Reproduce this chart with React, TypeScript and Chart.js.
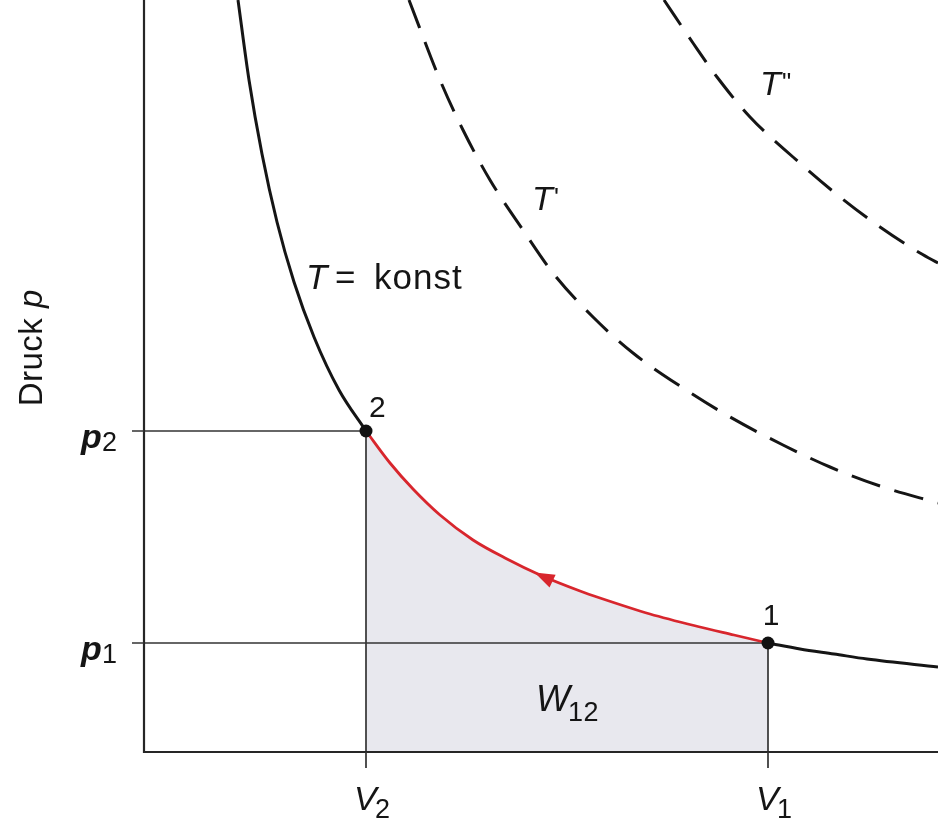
import { useEffect, useRef } from "react";
import { Chart, registerables } from "chart.js";

Chart.register(...registerables);

// State points of the isothermal compression (volume V, pressure p)
const V2 = 2.22;
const V1 = 6.24;
const P2 = 3.21;
const P1 = 1.09;

// Isotherm T = konst, branch above state 2
const isoUpperV = [0.94, 1.05, 1.18, 1.33, 1.5, 1.7, 1.95, 2.22];
const isoUpperP = [7.52, 6.72, 5.98, 5.3, 4.7, 4.15, 3.62, 3.21];

// Compression path 1 -> 2 (red), listed by increasing V
const compV = [2.22, 2.46, 2.69, 2.96, 3.29, 3.63, 3.96, 4.36, 4.56, 5.06, 5.56, 5.9, 6.24];
const compP = [3.21, 2.89, 2.63, 2.37, 2.12, 1.93, 1.77, 1.61, 1.54, 1.38, 1.25, 1.17, 1.09];
const ARROW_INDEX = 6;

// Isotherm T = konst, branch beyond state 1
const isoLowerV = [6.24, 6.56, 6.9, 7.23, 7.94];
const isoLowerP = [1.09, 1.03, 0.98, 0.93, 0.85];

// Higher isotherms T' and T''
const tPrimeV = [2.65, 2.96, 3.19, 3.46, 3.79, 4.09, 4.49, 4.89, 5.39, 5.86, 6.39, 6.86, 7.39, 7.94];
const tPrimeP = [7.52, 6.72, 6.22, 5.72, 5.22, 4.79, 4.35, 3.99, 3.64, 3.35, 3.07, 2.85, 2.65, 2.49];
const tDoubleV = [5.2, 5.49, 5.73, 6.06, 6.49, 6.96, 7.36, 7.76, 7.94];
const tDoubleP = [7.52, 7.09, 6.75, 6.35, 5.95, 5.55, 5.25, 4.99, 4.89];

const V_MAX = 7.94;
const P_MAX = 7.52;

const zip = (xs: number[], ys: number[]) => xs.map((x, i) => ({ x, y: ys[i] }));

const FONT = "'Liberation Sans', Arial, Helvetica, sans-serif";
const INK = "#151515";
const RED = "#d8262d";

function put(ctx: any, s: string, x: number, y: number, font: string, ls = 0, align = "left") {
  ctx.font = font;
  ctx.letterSpacing = ls + "px";
  ctx.textAlign = align;
  ctx.fillText(s, x, y);
}

const diagramPlugin = {
  id: "pvDiagram",
  afterDatasetsDraw(chart: any) {
    const { ctx, chartArea, scales } = chart;
    const { left, right, top, bottom } = chartArea;
    const xs = scales.x;
    const ys = scales.y;
    const xV2 = xs.getPixelForValue(V2);
    const xV1 = xs.getPixelForValue(V1);
    const yP2 = ys.getPixelForValue(P2);
    const yP1 = ys.getPixelForValue(P1);

    ctx.save();

    // axes
    ctx.strokeStyle = "#262626";
    ctx.lineWidth = 2.2;
    ctx.lineCap = "butt";
    ctx.beginPath();
    ctx.moveTo(left, top);
    ctx.lineTo(left, bottom);
    ctx.lineTo(right, bottom);
    ctx.stroke();

    // tick stubs for p1, p2, V1, V2
    ctx.strokeStyle = "#333333";
    ctx.lineWidth = 1.7;
    ctx.beginPath();
    for (const yy of [yP2, yP1]) {
      ctx.moveTo(left - 12, yy);
      ctx.lineTo(left, yy);
    }
    for (const xx of [xV2, xV1]) {
      ctx.moveTo(xx, bottom);
      ctx.lineTo(xx, bottom + 16);
    }
    ctx.stroke();

    // direction arrow on the compression path
    const meta = chart.getDatasetMeta(2);
    const a = meta.data[ARROW_INDEX];
    const b = meta.data[ARROW_INDEX - 1];
    const ang = Math.atan2(b.y - a.y, b.x - a.x);
    const len = 20;
    const half = 7;
    const tipX = a.x + Math.cos(ang) * len * 0.3;
    const tipY = a.y + Math.sin(ang) * len * 0.3;
    const baseX = tipX - Math.cos(ang) * len;
    const baseY = tipY - Math.sin(ang) * len;
    ctx.fillStyle = RED;
    ctx.beginPath();
    ctx.moveTo(tipX, tipY);
    ctx.lineTo(baseX - Math.sin(ang) * half, baseY + Math.cos(ang) * half);
    ctx.lineTo(baseX + Math.sin(ang) * half, baseY - Math.cos(ang) * half);
    ctx.closePath();
    ctx.fill();

    // labels
    ctx.fillStyle = INK;
    ctx.textBaseline = "alphabetic";

    // p2, p1
    for (const [yy, sub] of [[yP2, "2"], [yP1, "1"]] as [number, string][]) {
      put(ctx, "p", left - 63, yy + 17, `italic bold 34px ${FONT}`);
      put(ctx, sub, left - 42, yy + 20, `27px ${FONT}`);
    }

    // V2, V1
    for (const [xx, sub] of [[xV2, "2"], [xV1, "1"]] as [number, string][]) {
      put(ctx, "V", xx - 12, bottom + 58, `italic 34px ${FONT}`);
      put(ctx, sub, xx + 9, bottom + 66, `27px ${FONT}`);
    }

    // work W12
    const wx = (xV2 + xV1) / 2 - 31;
    put(ctx, "W", wx, yP1 + 68, `italic 36px ${FONT}`);
    put(ctx, "12", wx + 32, yP1 + 78, `27px ${FONT}`, 0.5);

    // state numbers
    put(ctx, "2", xV2 + 3, yP2 - 14, `30px ${FONT}`);
    put(ctx, "1", xV1 + 3, yP1 - 18, `30px ${FONT}`, 0, "center");

    // isotherm names
    const kx = xs.getPixelForValue(1.62);
    const ky = ys.getPixelForValue(4.62) - 1;
    put(ctx, "T", kx, ky, `italic 35px ${FONT}`);
    put(ctx, "=", kx + 29, ky, `35px ${FONT}`);
    put(ctx, "konst", kx + 68, ky, `35px ${FONT}`, 1);

    const t1x = xs.getPixelForValue(3.88);
    const t1y = ys.getPixelForValue(5.4);
    put(ctx, "T", t1x, t1y - 2, `italic 34px ${FONT}`);
    put(ctx, "'", t1x + 22, t1y - 6, `26px ${FONT}`);

    const t2x = xs.getPixelForValue(6.16);
    const t2y = ys.getPixelForValue(6.55);
    put(ctx, "T", t2x, t2y - 2, `italic 34px ${FONT}`);
    put(ctx, "\"", t2x + 22, t2y - 6, `26px ${FONT}`);

    // axis title
    ctx.save();
    ctx.translate(left - 102, ys.getPixelForValue(4.04));
    ctx.rotate(-Math.PI / 2);
    ctx.font = `33px ${FONT}`;
    ctx.letterSpacing = "0.5px";
    const w1 = ctx.measureText("Druck ").width;
    ctx.font = `italic 33px ${FONT}`;
    ctx.letterSpacing = "0px";
    const w2 = ctx.measureText("p").width;
    const start = -(w1 + w2) / 2;
    put(ctx, "Druck ", start, 0, `33px ${FONT}`, 0.5);
    put(ctx, "p", start + w1, 0, `italic 33px ${FONT}`, 0);
    ctx.restore();

    ctx.restore();
  },
};

const whiteBg = {
  id: "whiteBg",
  beforeDraw(chart: any) {
    const { ctx, width, height } = chart;
    ctx.save();
    ctx.fillStyle = "#ffffff";
    ctx.fillRect(0, 0, width, height);
    ctx.restore();
  },
};

export default function App() {
  const ref = useRef<HTMLCanvasElement>(null);

  useEffect(() => {
    document.body.style.margin = "0";
    const guide = {
      borderColor: "#333333",
      borderWidth: 1.7,
      pointRadius: 0,
      fill: false,
      tension: 0,
      order: 5,
    };
    const curve = {
      borderColor: INK,
      borderWidth: 3,
      pointRadius: 0,
      fill: false,
      cubicInterpolationMode: "monotone",
      order: 2,
    };
    const chart = new Chart(ref.current!, {
      type: "line",
      data: {
        datasets: [
          { ...guide, data: [{ x: 0, y: P2 }, { x: V2, y: P2 }] } as any,
          { ...guide, data: [{ x: 0, y: P1 }, { x: V1, y: P1 }] } as any,
          {
            data: zip(compV, compP),
            borderColor: RED,
            borderWidth: 2.8,
            backgroundColor: "#e8e8ee",
            fill: "origin",
            pointRadius: 0,
            cubicInterpolationMode: "monotone",
            order: 2,
          },
          { ...guide, data: [{ x: V2, y: 0 }, { x: V2, y: P2 }] } as any,
          { ...guide, data: [{ x: V1, y: 0 }, { x: V1, y: P1 }] } as any,
          { ...curve, data: zip(isoUpperV, isoUpperP) } as any,
          { ...curve, data: zip(isoLowerV, isoLowerP) } as any,
          { ...curve, borderDash: [30, 15], data: zip(tPrimeV, tPrimeP) } as any,
          { ...curve, borderDash: [30, 15], data: zip(tDoubleV, tDoubleP) } as any,
          {
            data: [{ x: V2, y: P2 }, { x: V1, y: P1 }],
            showLine: false,
            pointRadius: 6.5,
            pointBackgroundColor: "#111",
            pointBorderWidth: 0,
            order: 0,
          },
        ],
      },
      options: {
        responsive: false,
        animation: false,
        events: [],
        layout: { autoPadding: false, padding: { left: 144, right: 0, top: 0, bottom: 68 } },
        scales: {
          x: { type: "linear", min: 0, max: V_MAX, display: false },
          y: { type: "linear", min: 0, max: P_MAX, display: false },
        },
        plugins: {
          legend: { display: false },
          tooltip: { enabled: false },
          filler: { drawTime: "beforeDatasetsDraw" },
        } as any,
      } as any,
      plugins: [whiteBg, diagramPlugin],
    });
    return () => chart.destroy();
  }, []);

  return (
    <div style={{ width: 938, height: 820, background: "#fff" }}>
      <canvas ref={ref} width={938} height={820} style={{ display: "block" }} />
    </div>
  );
}
